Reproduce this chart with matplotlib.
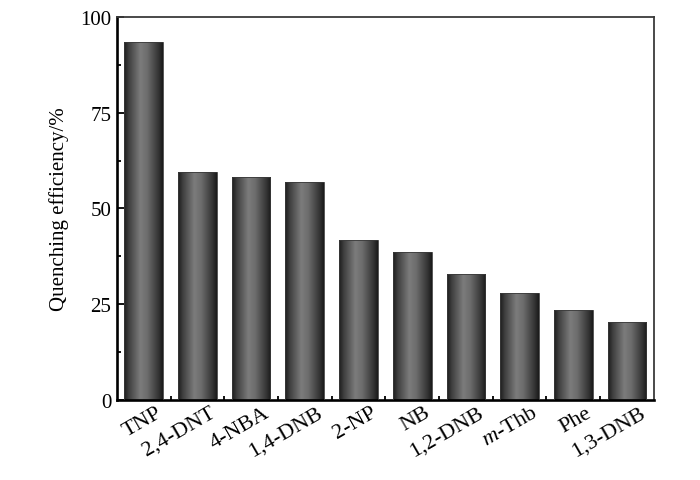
import numpy as np
import matplotlib
matplotlib.use("Agg")
import matplotlib.pyplot as plt
from matplotlib.colors import LinearSegmentedColormap
from matplotlib.ticker import FixedLocator, MultipleLocator
import matplotlib.transforms as mtransforms

# data
compounds = ["TNP", "2,4-DNT", "4-NBA", "1,4-DNB", "2-NP", "NB",
             "1,2-DNB", r"$\it{m}$-Thb", "Phe", "1,3-DNB"]
efficiency = [93.5, 59.4, 58.1, 56.8, 41.8, 38.6, 32.9, 27.9, 23.5, 20.3]
y_ticks = [0, 25, 50, 75, 100]

plt.rcParams['font.family'] = ['Liberation Serif', 'DejaVu Serif']
plt.rcParams['mathtext.fontset'] = 'custom'
plt.rcParams['mathtext.it'] = 'Liberation Serif:italic'
plt.rcParams['mathtext.rm'] = 'Liberation Serif'

fig = plt.figure(figsize=(7.0, 4.81), dpi=100)
ax = fig.add_axes([0.167, 0.166, 0.767, 0.797])

x = np.arange(len(compounds))
bars = ax.bar(x, efficiency, width=0.72, facecolor='none',
              edgecolor='#3a3a3a', linewidth=0.6, zorder=3)

# cylinder-like shading inside every bar
shade = LinearSegmentedColormap.from_list(
    "cyl", [(0.0, '#1c1c1c'), (0.12, '#3e3e3e'), (0.42, '#7c7c7c'),
            (0.6, '#6c6c6c'), (0.88, '#363636'), (1.0, '#1a1a1a')])
grad = np.linspace(0, 1, 256).reshape(1, -1)
for b in bars:
    bx, by = b.get_x(), b.get_y()
    bw, bh = b.get_width(), b.get_height()
    im = ax.imshow(grad, cmap=shade, aspect='auto', zorder=2,
                   extent=[bx, bx + bw, by, by + bh], interpolation='bilinear')
    im.set_clip_path(b)

ax.set_xlim(-0.5, len(compounds) - 0.5)
ax.set_ylim(0, 100)

ax.set_yticks(y_ticks)
ax.yaxis.set_minor_locator(MultipleLocator(12.5))
ax.set_xticks(x)
ax.xaxis.set_minor_locator(FixedLocator(np.arange(0.5, len(compounds) - 0.5, 1)))

ax.tick_params(axis='both', which='major', direction='in', length=5,
               width=1.3, labelsize=15)
ax.tick_params(axis='both', which='minor', direction='in', length=2.8,
               width=1.3)
ax.tick_params(axis='y', pad=4)
ax.tick_params(axis='x', pad=2, labelsize=16)

ax.set_xticklabels(compounds, rotation=30, ha='right', va='top',
                   rotation_mode='anchor')
offset = mtransforms.ScaledTranslation(0.12, 0.0, fig.dpi_scale_trans)
for lbl in ax.get_xticklabels():
    lbl.set_transform(lbl.get_transform() + offset)

ax.set_ylabel("Quenching efficiency/%", fontsize=15, labelpad=8)

for side in ['left', 'bottom']:
    ax.spines[side].set_linewidth(1.9)
    ax.spines[side].set_color('black')
for side in ['top', 'right']:
    ax.spines[side].set_linewidth(1.3)
    ax.spines[side].set_color('#3a3a3a')

fig.savefig("out.png", dpi=100)
